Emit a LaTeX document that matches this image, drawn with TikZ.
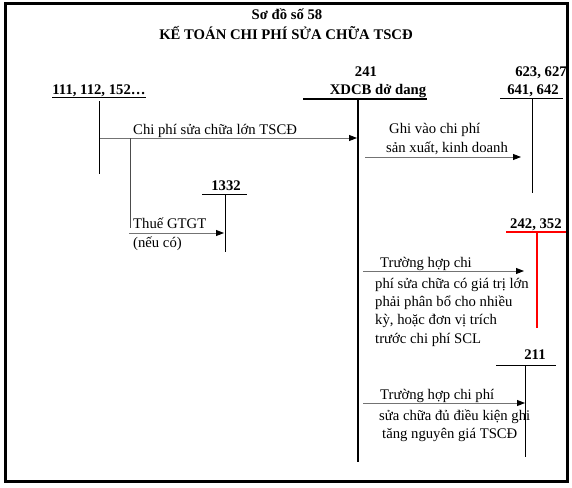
\documentclass[tikz,border=0pt]{standalone}
\usepackage{fontspec}
\setmainfont{Liberation Serif}
\usetikzlibrary{arrows.meta}

\begin{document}
\begin{tikzpicture}[x=1pt,y=-1pt,every node/.style={font=\fontsize{14.7}{18}\selectfont,inner sep=0pt}]
\tikzset{
  tx/.style={anchor=base west},
  acc/.style={font=\fontsize{14.7}{18}\selectfont\bfseries,anchor=base},
  post/.style={draw=black!55,line width=0.9pt,-{Triangle[length=8pt,width=6pt,color=black]}},
  tl/.style={line width=0.9pt},
  tk/.style={line width=2.4pt}
}
\useasboundingbox (0,0) rectangle (572,487);
\draw[line width=3pt] (5.5,4) rectangle (567,481);
% title
\node[acc] (t1) at (287,20) {Sơ đồ số 58};
\node[acc] (t2) at (286,40) {KẾ TOÁN CHI PHÍ SỬA CHỮA TSCĐ};
% accounts
\node[acc] (n111) at (99,94) {\underline{111, 112, 152…}};
\node[acc] (n241) at (366,76) {241};
\node[acc] (n241b) at (378,94) {\underline{XDCB dở dang}};
\node[acc] (n623) at (541,76) {623, 627};
\node[acc] (n641) at (533,94) {641, 642};
\node[acc] (n1332) at (226,190) {1332};
\node[acc, anchor=base west] (n242) at (510,228) {242, 352};
\node[acc] (n211) at (535,359) {211};
\coordinate (a111) at (99,101);   \coordinate (b111) at (99,174);
\coordinate (l241) at (303,99);   \coordinate (r241) at (427,99);
\coordinate (a241) at (358,99);   \coordinate (b241) at (358,462);
\coordinate (l641) at (500,98);   \coordinate (r641) at (563,98);
\coordinate (a641) at (532,98);   \coordinate (b641) at (532,193);
\coordinate (l1332) at (202,194); \coordinate (r1332) at (247,194);
\coordinate (a1332) at (225,194); \coordinate (b1332) at (225,252);
\coordinate (l242) at (506,232);  \coordinate (r242) at (566,232);
\coordinate (a242) at (537,232);  \coordinate (b242) at (537,328);
\coordinate (l211) at (496,365);  \coordinate (r211) at (556,365);
\coordinate (a211) at (525,365);  \coordinate (b211) at (525,457);
\draw[tl] (a111) -- (b111);
\draw[tk] (l241) -- (r241);
\draw[tk] (a241) -- (b241);
\draw[tl] (l641) -- (r641);
\draw[tl] (a641) -- (b641);
\draw[tl] (l1332) -- (r1332);
\draw[tl] (a1332) -- (b1332);
\draw[tl,red,line width=1.1pt] (l242) -- (r242);
\draw[tl,red,line width=1.1pt] (a242) -- (b242);
\draw[tl] (l211) -- (r211);
\draw[tl] (a211) -- (b211);
% postings
\coordinate (p1) at (100,138);  \coordinate (q1) at (357,138);
\coordinate (j1) at (130,138);  \coordinate (k1) at (130,228);
\coordinate (p2) at (129,233);  \coordinate (q2) at (224,233);
\coordinate (p3) at (365,157);  \coordinate (q3) at (521,157);
\coordinate (p4) at (363,271);  \coordinate (q4) at (524,271);
\coordinate (p5) at (363,403);  \coordinate (q5) at (525,403);
\draw[post] (p1) -- (q1);
\draw[draw=black!70,line width=0.9pt] (j1) -- (k1);
\draw[post] (p2) -- (q2);
\draw[post] (p3) -- (q3);
\draw[post] (p4) -- (q4);
\draw[post] (p5) -- (q5);
\node[tx] (c1) at (133,134) {Chi phí sửa chữa lớn TSCĐ};
\node[tx] (c2) at (133,228) {Thuế GTGT};
\node[tx] (c3) at (133,247) {(nếu có)};
\node[tx] (c4) at (389,133) {Ghi vào chi phí};
\node[tx] (c5) at (386,152) {sản xuất, kinh doanh};
\node[tx] (c6) at (380,267) {Trường hợp chi};
\foreach \t [count=\i] in {phí sửa chữa có giá trị lớn, phải phân bổ cho nhiều,
    {kỳ, hoặc đơn vị trích}, trước chi phí SCL}
  \node[tx] (d\i) at (375,288+18.4*\i-18.4) {\t};
\node[tx] (c7) at (380,399) {Trường hợp chi phí};
\node[tx] (c8) at (379,420) {sửa chữa đủ điều kiện ghi};
\node[tx] (c9) at (382,438) {tăng nguyên giá TSCĐ};
\end{tikzpicture}
\end{document}
